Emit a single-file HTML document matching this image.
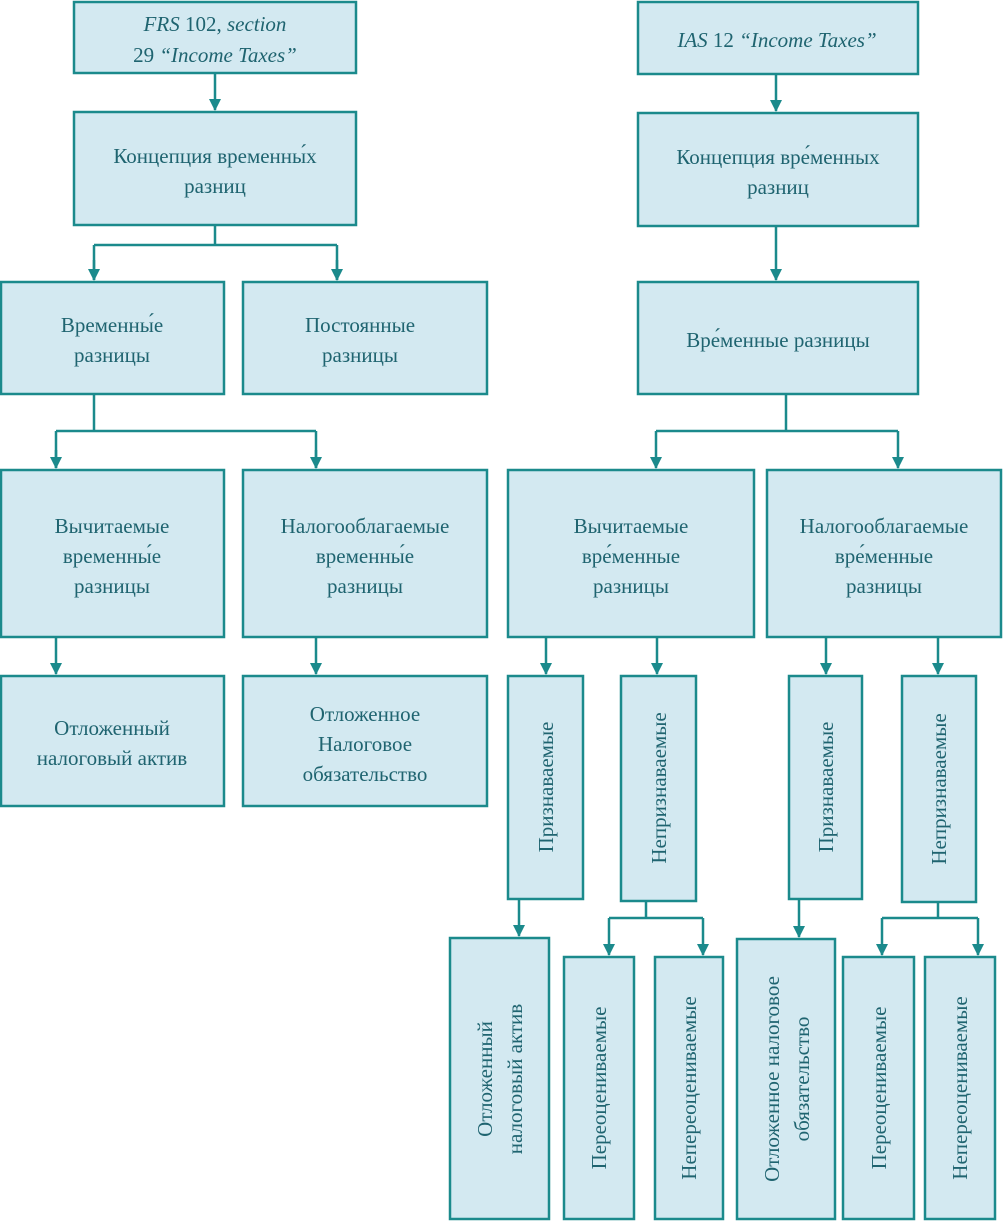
<!DOCTYPE html>
<html><head><meta charset="utf-8"><style>
body{margin:0;background:#fff}
svg{display:block}
text{font-family:"Liberation Serif",serif;font-size:21px;fill:#1f6470;text-anchor:middle}
rect{fill:#d3e9f1;stroke:#1b8a8c;stroke-width:2.5}
.l{stroke:#1b8a8c;stroke-width:2.5;fill:none}
</style></head><body>
<svg width="1003" height="1221" viewBox="0 0 1003 1221" xmlns="http://www.w3.org/2000/svg">
<defs><marker id="a" markerWidth="10" markerHeight="10" refX="5" refY="9" orient="auto" markerUnits="userSpaceOnUse" viewBox="0 0 10 10"><path d="M0,0 L10,0 L5,10 z" fill="#1b8a8c" transform="rotate(-90 5 5)"/></marker>
<marker id="d" markerWidth="12" markerHeight="12" refX="6" refY="11" orient="0" markerUnits="userSpaceOnUse"><path d="M0,0 L12,0 L6,12 z" fill="#1b8a8c"/></marker></defs>

<!-- connectors -->
<g class="l">
<path d="M215 73V110" marker-end="url(#d)"/>
<path d="M215 225V245M94 245H337M94 245V280M337 245V280" />
<path d="M94 260V280" marker-end="url(#d)"/><path d="M337 260V280" marker-end="url(#d)"/>
<path d="M94 394V431M56 431H316M56 431V468M316 431V468"/>
<path d="M56 450V468" marker-end="url(#d)"/><path d="M316 450V468" marker-end="url(#d)"/>
<path d="M56 637V674" marker-end="url(#d)"/><path d="M316 637V674" marker-end="url(#d)"/>
<path d="M776 74V111" marker-end="url(#d)"/>
<path d="M776 226V280" marker-end="url(#d)"/>
<path d="M786 394V431M656 431H898"/>
<path d="M656 431V468" marker-end="url(#d)"/><path d="M898 431V468" marker-end="url(#d)"/>
<path d="M546 637V674" marker-end="url(#d)"/><path d="M657 637V674" marker-end="url(#d)"/>
<path d="M826 637V674" marker-end="url(#d)"/><path d="M938 637V674" marker-end="url(#d)"/>
<path d="M519 899V936" marker-end="url(#d)"/>
<path d="M799 899V937" marker-end="url(#d)"/>
<path d="M646 901V918M609 918H703"/>
<path d="M609 918V955" marker-end="url(#d)"/><path d="M703 918V955" marker-end="url(#d)"/>
<path d="M938 902V918M882 918H978"/>
<path d="M882 918V955" marker-end="url(#d)"/><path d="M978 918V955" marker-end="url(#d)"/>
</g>

<!-- left boxes -->
<rect x="74" y="2" width="282" height="71"/>
<text x="215" y="31"><tspan font-style="italic">FRS</tspan> 102, <tspan font-style="italic">section</tspan></text>
<text x="215" y="62">29 <tspan font-style="italic">“Income Taxes”</tspan></text>
<rect x="74" y="112" width="282" height="113"/>
<text x="215" y="163">Концепция временны́х</text><text x="215" y="193">разниц</text>
<rect x="1" y="282" width="223" height="112"/>
<text x="112" y="332">Временны́е</text><text x="112" y="362">разницы</text>
<rect x="243" y="282" width="244" height="112"/>
<text x="360" y="332">Постоянные</text><text x="360" y="362">разницы</text>
<rect x="1" y="470" width="223" height="167"/>
<text x="112" y="533">Вычитаемые</text><text x="112" y="563">временны́е</text><text x="112" y="593">разницы</text>
<rect x="243" y="470" width="244" height="167"/>
<text x="365" y="533">Налогооблагаемые</text><text x="365" y="563">временны́е</text><text x="365" y="593">разницы</text>
<rect x="1" y="676" width="223" height="130"/>
<text x="112" y="735">Отложенный</text><text x="112" y="765">налоговый актив</text>
<rect x="243" y="676" width="244" height="130"/>
<text x="365" y="721">Отложенное</text><text x="365" y="751">Налоговое</text><text x="365" y="781">обязательство</text>

<!-- right boxes -->
<rect x="638" y="2" width="280" height="72"/>
<text x="777" y="47"><tspan font-style="italic">IAS</tspan> 12 <tspan font-style="italic">“Income Taxes”</tspan></text>
<rect x="638" y="113" width="280" height="113"/>
<text x="778" y="164">Концепция вре́менных</text><text x="778" y="194">разниц</text>
<rect x="638" y="282" width="280" height="112"/>
<text x="778" y="347">Вре́менные разницы</text>
<rect x="508" y="470" width="246" height="167"/>
<text x="631" y="533">Вычитаемые</text><text x="631" y="563">вре́менные</text><text x="631" y="593">разницы</text>
<rect x="767" y="470" width="234" height="167"/>
<text x="884" y="533">Налогооблагаемые</text><text x="884" y="563">вре́менные</text><text x="884" y="593">разницы</text>

<rect x="508" y="676" width="75" height="223"/>
<text transform="translate(553 787) rotate(-90)">Признаваемые</text>
<rect x="621" y="676" width="75" height="225"/>
<text transform="translate(666 788) rotate(-90)">Непризнаваемые</text>
<rect x="789" y="676" width="73" height="223"/>
<text transform="translate(833 787) rotate(-90)">Признаваемые</text>
<rect x="902" y="676" width="74" height="226"/>
<text transform="translate(946 789) rotate(-90)">Непризнаваемые</text>

<rect x="450" y="938" width="99" height="281"/>
<text transform="translate(492 1079) rotate(-90)">Отложенный</text>
<text transform="translate(522 1079) rotate(-90)">налоговый актив</text>
<rect x="564" y="957" width="70" height="262"/>
<text transform="translate(606 1088) rotate(-90)">Переоцениваемые</text>
<rect x="655" y="957" width="68" height="262"/>
<text transform="translate(696 1088) rotate(-90)">Непереоцениваемые</text>
<rect x="737" y="939" width="98" height="280"/>
<text transform="translate(779 1079) rotate(-90)">Отложенное налоговое</text>
<text transform="translate(809 1079) rotate(-90)">обязательство</text>
<rect x="843" y="957" width="71" height="262"/>
<text transform="translate(886 1088) rotate(-90)">Переоцениваемые</text>
<rect x="925" y="957" width="70" height="262"/>
<text transform="translate(967 1088) rotate(-90)">Непереоцениваемые</text>
</svg>
</body></html>
